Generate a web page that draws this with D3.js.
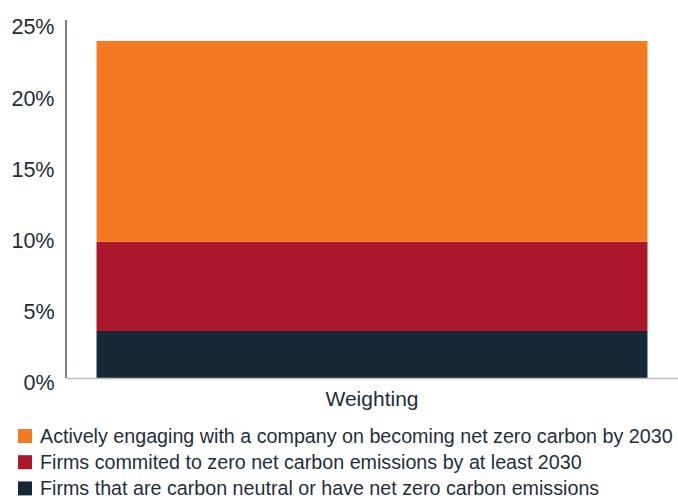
<!DOCTYPE html>
<html><head><meta charset="utf-8">
<script src="https://cdn.jsdelivr.net/npm/d3@7"></script>
<style>body{margin:0;background:#fff}svg{display:block;font-family:"Liberation Sans",Arial,sans-serif}</style>
</head><body><svg id="c" width="678" height="500"></svg>
<script>
const categories = ["Weighting"];
const seriesNames = [
  "Firms that are carbon neutral or have net zero carbon emissions",
  "Firms commited to zero net carbon emissions by at least 2030",
  "Actively engaging with a company on becoming net zero carbon by 2030"
];
const neutralValues = [3.3];
const committedValues = [6.27];
const engagingValues = [14.1];
const yTicks = [0, 5, 10, 15, 20, 25];
const colors = ["#172836", "#AD172B", "#F47A22"];

const svg = d3.select("#c");
const m = {l: 66, r: 0, t: 22, b: 122};
const W = 678, H = 500;
const x = d3.scaleBand().domain(categories).range([m.l, W - m.r]).paddingInner(0.0525).paddingOuter(0.0525);
const y = d3.scaleLinear().domain([0, 25]).range([H - m.b, m.t]);

const rows = categories.map((c, i) => ({cat: c, s0: neutralValues[i], s1: committedValues[i], s2: engagingValues[i]}));
const stack = d3.stack().keys(["s0", "s1", "s2"])(rows);

svg.append("g").selectAll("g").data(stack).join("g")
  .attr("fill", (d, i) => colors[i])
  .selectAll("rect").data(d => d).join("rect")
  .attr("x", d => x(d.data.cat))
  .attr("width", x.bandwidth())
  .attr("y", d => y(d[1]))
  .attr("height", d => y(d[0]) - y(d[1]));

// y axis
const ya = svg.append("g").attr("transform", `translate(${m.l},0)`)
  .call(d3.axisLeft(y).tickValues(yTicks).tickSize(0).tickPadding(11.5).tickFormat(d => d + "%"));
ya.select(".domain").attr("stroke", "#1f2e3c").attr("stroke-width", 1.2).attr("d", `M0,${y(0)}V${m.t - 2}`);
ya.selectAll("text").attr("font-size", 21.5).attr("fill", "#222d38").attr("font-family", "Liberation Sans, Arial, sans-serif")
  .attr("dy", "0.55em");

// x axis
const xa = svg.append("g").attr("transform", `translate(0,${y(0)})`)
  .call(d3.axisBottom(x).tickSize(0).tickPadding(13));
xa.select(".domain").attr("stroke", "#b8bec6").attr("stroke-width", 1.5);
xa.selectAll("text").attr("font-size", 21).attr("fill", "#222d38").attr("font-family", "Liberation Sans, Arial, sans-serif");

// legend
const legOrder = [2, 1, 0];
const lg = svg.append("g").selectAll("g").data(legOrder).join("g")
  .attr("transform", (d, i) => `translate(18,${436 + i * 26.2})`);
lg.append("rect").attr("x", 0).attr("y", -7).attr("width", 14).attr("height", 14).attr("fill", d => colors[d]);
lg.append("text").attr("x", 22).attr("y", 0).attr("dy", "0.36em").attr("font-size", 19.7).attr("fill", "#1f2e3c")
  .text(d => seriesNames[d]);
</script></body></html>
